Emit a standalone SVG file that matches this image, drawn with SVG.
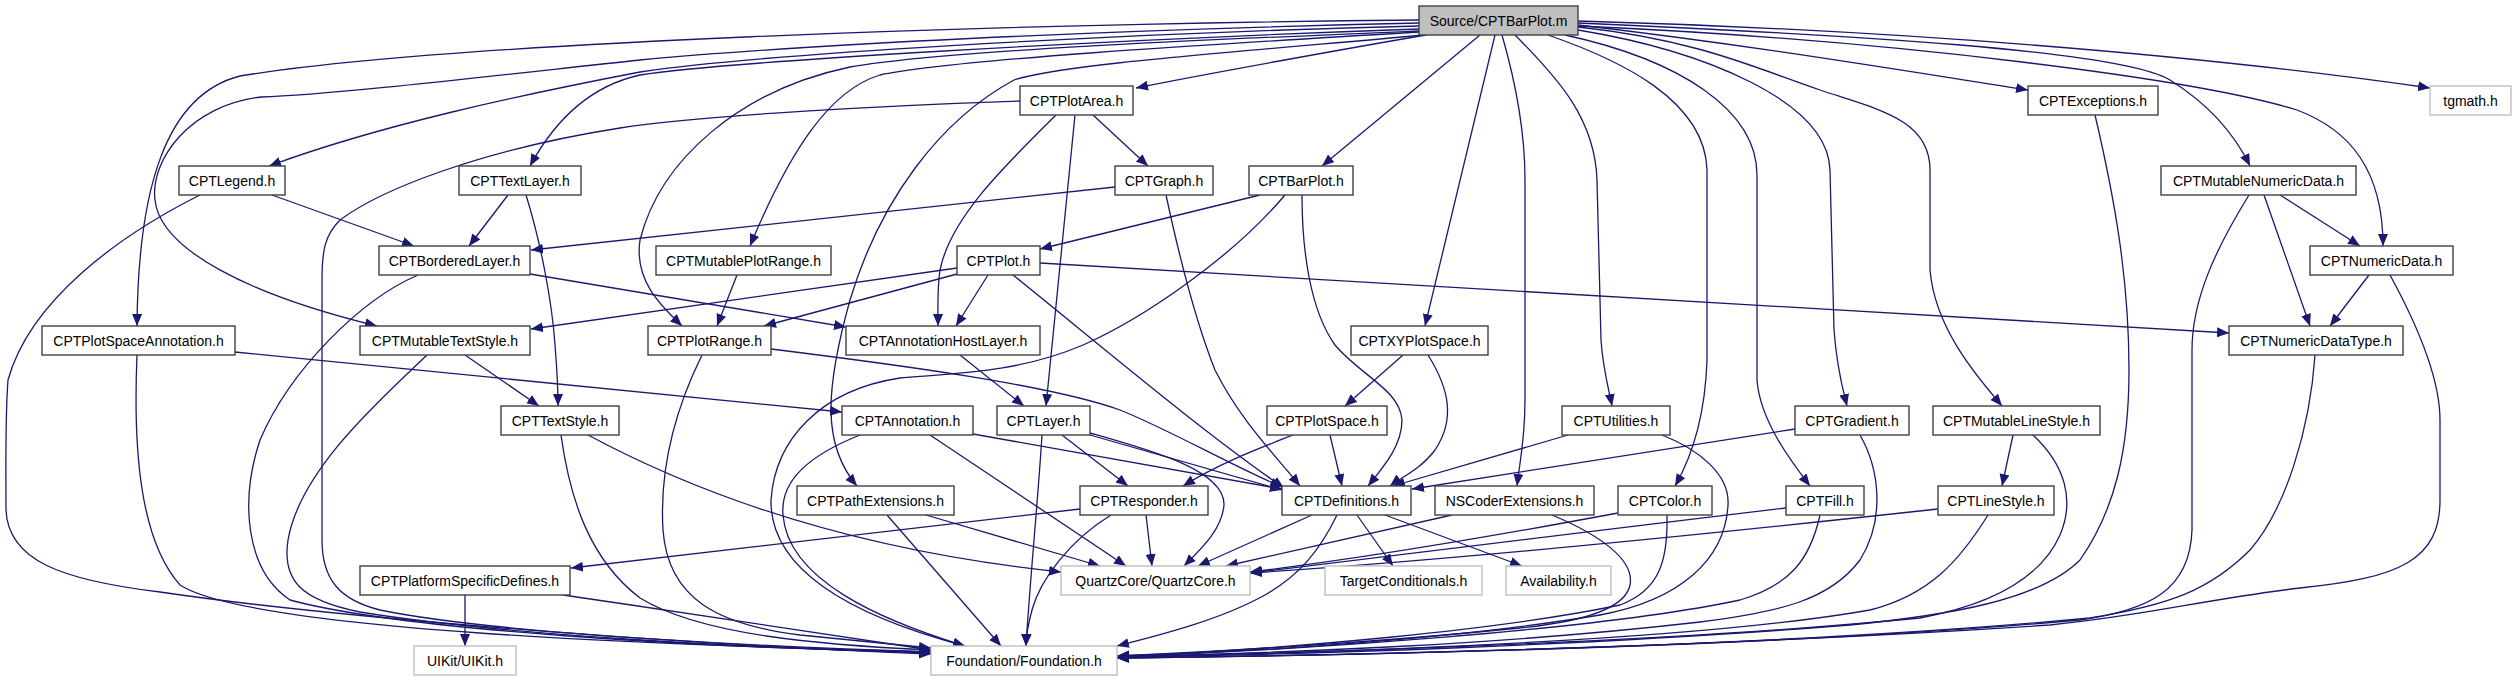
<svg xmlns="http://www.w3.org/2000/svg" width="2517" height="683" viewBox="0 0 2517 683">
<style>
.n rect{fill:#fff;stroke:#404040;stroke-width:1.4}
.n.g rect{stroke:#bfbfbf}
.n.r rect{fill:#bfbfbf}
.n text{font-family:"Liberation Sans",Arial,sans-serif;font-size:14px;text-anchor:middle;fill:#000}
#edges path{fill:none;stroke:#191970;stroke-width:1.3;marker-end:url(#a)}
</style>
<defs>
<marker id="a" markerWidth="13" markerHeight="11" refX="12" refY="5" orient="auto" markerUnits="userSpaceOnUse"><path d="M0,0 L12,5 L0,10 z" fill="#191970"/></marker>
</defs>
<rect width="2517" height="683" fill="#fff"/>
<g id="edges">
<path d="M1426,35 C1350,48 1200,75 1136,88"/>
<path d="M1419,20 C1000,24 450,42 240,76 C165,95 138,190 137,326"/>
<path d="M1419,23 C1100,30 800,45 640,60 C500,75 330,95 261,97 C190,105 150,160 155,200 C160,250 250,295 377,326"/>
<path d="M1419,26 C1100,34 750,55 640,72 C520,95 380,125 269,166"/>
<path d="M1419,29 C1100,40 720,62 640,75 C590,86 555,120 530,166"/>
<path d="M1419,31 C1200,40 950,50 850,67 C740,90 660,160 640,240 C634,280 660,305 682,326"/>
<path d="M1419,32 C1200,45 950,60 880,75 C830,90 790,150 750,246"/>
<path d="M1425,35 C1200,55 1060,65 1014,80 C940,120 880,200 850,300 C825,390 822,445 857,486"/>
<path d="M1502,35 C1515,80 1525,130 1525,180 L1525,400 C1525,440 1520,460 1517,486"/>
<path d="M1495,35 L1425,326"/>
<path d="M1480,35 L1322,166"/>
<path d="M1515,35 C1560,80 1595,120 1597,180 L1601,340 C1603,370 1609,390 1612,406"/>
<path d="M1548,35 C1620,60 1705,100 1707,170 L1707,360 C1705,420 1690,460 1675,486"/>
<path d="M1565,35 C1680,60 1757,110 1757,175 L1757,380 C1760,420 1790,460 1810,486"/>
<path d="M1578,30 C1700,50 1828,100 1830,170 L1834,330 C1837,370 1843,390 1847,406"/>
<path d="M1578,27 C1700,40 1760,70 1820,90 C1880,110 1930,120 1930,170 L1930,270 C1935,330 1980,380 2002,406"/>
<path d="M1578,25 C1750,45 1900,70 2028,90"/>
<path d="M1578,21 C1900,30 2200,55 2430,88"/>
<path d="M1578,23 C1850,35 2120,50 2170,80 C2210,105 2235,135 2250,166"/>
<path d="M1578,26 C1900,40 2200,80 2297,110 C2350,130 2383,170 2383,246"/>
<path d="M1093,115 L1148,166"/>
<path d="M1056,115 C1000,170 950,220 940,270 C937,290 938,310 938,326"/>
<path d="M1075,115 L1046,406"/>
<path d="M1020,101 C900,105 700,115 620,128 C480,150 380,190 340,220 C325,235 322,250 322,280 L322,540 C322,580 340,600 380,610 C500,635 800,648 931,652"/>
<path d="M272,195 L414,246"/>
<path d="M200,195 C120,235 30,300 8,380 C5,420 6,470 6,510 C8,560 60,580 160,592 C350,620 700,645 931,654"/>
<path d="M508,195 L469,246"/>
<path d="M526,195 C540,240 552,300 555,345 C557,370 558,390 558,406"/>
<path d="M1115,187 L531,250"/>
<path d="M1166,195 C1180,260 1195,320 1215,370 C1240,420 1275,455 1300,486"/>
<path d="M1260,195 L1040,249"/>
<path d="M1302,195 C1302,250 1310,310 1335,345 C1360,375 1400,390 1402,420 C1402,445 1385,465 1368,486"/>
<path d="M1285,195 C1230,260 1140,320 1083,345 C1020,372 960,373 900,378 C820,390 775,440 771,500 C770,560 830,610 965,646"/>
<path d="M957,268 L531,329"/>
<path d="M957,274 L764,326"/>
<path d="M988,275 L956,326"/>
<path d="M1013,275 C1100,345 1200,430 1284,488"/>
<path d="M1040,263 L2229,333"/>
<path d="M530,274 L846,327"/>
<path d="M418,275 C360,300 290,370 260,440 C240,500 245,570 290,600 C400,630 700,648 931,652"/>
<path d="M427,355 C380,400 300,470 288,540 C282,580 300,600 360,612 C500,635 750,648 931,653"/>
<path d="M465,355 L539,406"/>
<path d="M235,352 L842,412"/>
<path d="M137,355 C133,450 140,540 180,585 C250,630 650,645 931,652"/>
<path d="M588,435 C700,495 850,550 1061,572"/>
<path d="M561,435 C570,500 590,560 640,598 C700,635 820,645 931,650"/>
<path d="M465,595 L465,646"/>
<path d="M563,595 C700,615 850,638 931,650"/>
<path d="M1080,509 L571,568"/>
<path d="M1146,515 L1152,566"/>
<path d="M1111,515 C1070,540 1040,580 1032,610 C1028,625 1026,635 1026,646"/>
<path d="M1062,435 L1128,486"/>
<path d="M1042,435 C1038,500 1030,580 1026,646"/>
<path d="M1090,433 C1150,450 1225,470 1224,505 C1222,530 1200,550 1184,566"/>
<path d="M1090,435 L1282,490"/>
<path d="M960,355 L1024,406"/>
<path d="M973,434 L1282,489"/>
<path d="M930,435 L1126,566"/>
<path d="M860,435 C810,455 780,480 783,515 C788,580 880,620 965,646"/>
<path d="M926,515 L1100,566"/>
<path d="M887,515 L1001,646"/>
<path d="M771,349 C900,365 1050,385 1120,410 C1170,430 1230,465 1282,487"/>
<path d="M702,355 C670,420 660,480 663,530 C668,600 720,625 800,635 C850,640 900,645 931,648"/>
<path d="M737,275 L717,326"/>
<path d="M1403,355 L1345,406"/>
<path d="M1428,355 C1450,390 1455,420 1435,450 C1420,470 1400,478 1390,486"/>
<path d="M1330,435 L1342,486"/>
<path d="M1293,435 C1260,448 1220,463 1183,486"/>
<path d="M1568,435 L1393,486"/>
<path d="M1662,435 C1700,450 1730,475 1728,505 C1725,560 1680,600 1600,615 C1450,640 1250,652 1117,656"/>
<path d="M1452,515 L1226,566"/>
<path d="M1552,515 C1600,535 1635,560 1630,585 C1625,610 1580,622 1520,628 C1350,645 1200,652 1117,656"/>
<path d="M1357,515 L1393,566"/>
<path d="M1385,515 L1522,566"/>
<path d="M1312,515 L1198,566"/>
<path d="M1337,515 C1320,550 1300,575 1265,595 C1220,620 1160,635 1117,646"/>
<path d="M1618,513 C1500,535 1350,560 1250,572"/>
<path d="M1667,515 C1668,560 1660,590 1620,605 C1500,630 1300,648 1117,657"/>
<path d="M1786,508 C1600,530 1400,555 1250,573"/>
<path d="M1820,515 C1810,560 1790,585 1740,600 C1600,630 1300,650 1117,657"/>
<path d="M1795,429 L1412,489"/>
<path d="M1860,435 C1880,470 1885,520 1860,560 C1830,600 1780,612 1700,622 C1500,645 1300,652 1117,657"/>
<path d="M2013,435 L2002,486"/>
<path d="M2033,435 C2065,465 2075,500 2060,535 C2040,580 1990,605 1920,618 C1700,640 1350,652 1117,657"/>
<path d="M1938,509 C1700,535 1450,560 1250,573"/>
<path d="M1988,515 C1960,560 1930,595 1870,610 C1700,640 1350,652 1117,657"/>
<path d="M2095,115 C2115,200 2129,280 2129,370 C2129,450 2115,510 2080,560 C2040,600 1950,615 1850,625 C1600,645 1300,655 1117,657"/>
<path d="M2280,195 L2360,246"/>
<path d="M2264,195 L2310,326"/>
<path d="M2249,195 C2215,250 2192,300 2192,350 L2192,530 C2190,590 2150,610 2080,620 C1800,645 1400,655 1117,658"/>
<path d="M2369,275 L2330,326"/>
<path d="M2390,275 C2420,330 2440,380 2440,420 L2440,500 C2440,560 2400,578 2300,588 C2200,600 2150,615 2050,625 C1700,648 1350,655 1117,658"/>
<path d="M2315,355 C2310,430 2285,510 2250,550 C2210,590 2170,605 2090,618 C1800,645 1400,655 1117,658"/>
</g>
<g id="n0" class="n r"><rect x="1419" y="6" width="159" height="29"/><text x="1498.5" y="26">Source/CPTBarPlot.m</text></g>
<g id="n1" class="n"><rect x="1020" y="86" width="113" height="29"/><text x="1076.5" y="106">CPTPlotArea.h</text></g>
<g id="n2" class="n"><rect x="2028" y="86" width="130" height="29"/><text x="2093" y="106">CPTExceptions.h</text></g>
<g id="n3" class="n g"><rect x="2430" y="86" width="81" height="29"/><text x="2470.5" y="106">tgmath.h</text></g>
<g id="n4" class="n"><rect x="179" y="166" width="106" height="29"/><text x="232" y="186">CPTLegend.h</text></g>
<g id="n5" class="n"><rect x="459" y="166" width="122" height="29"/><text x="520" y="186">CPTTextLayer.h</text></g>
<g id="n6" class="n"><rect x="1115" y="166" width="98" height="29"/><text x="1164" y="186">CPTGraph.h</text></g>
<g id="n7" class="n"><rect x="1249" y="166" width="104" height="29"/><text x="1301" y="186">CPTBarPlot.h</text></g>
<g id="n8" class="n"><rect x="2161" y="166" width="195" height="29"/><text x="2258.5" y="186">CPTMutableNumericData.h</text></g>
<g id="n9" class="n"><rect x="379" y="246" width="151" height="29"/><text x="454.5" y="266">CPTBorderedLayer.h</text></g>
<g id="n10" class="n"><rect x="656" y="246" width="175" height="29"/><text x="743.5" y="266">CPTMutablePlotRange.h</text></g>
<g id="n11" class="n"><rect x="957" y="246" width="83" height="29"/><text x="998.5" y="266">CPTPlot.h</text></g>
<g id="n12" class="n"><rect x="2310" y="246" width="143" height="29"/><text x="2381.5" y="266">CPTNumericData.h</text></g>
<g id="n13" class="n"><rect x="42" y="326" width="193" height="29"/><text x="138.5" y="346">CPTPlotSpaceAnnotation.h</text></g>
<g id="n14" class="n"><rect x="360" y="326" width="170" height="29"/><text x="445" y="346">CPTMutableTextStyle.h</text></g>
<g id="n15" class="n"><rect x="648" y="326" width="123" height="29"/><text x="709.5" y="346">CPTPlotRange.h</text></g>
<g id="n16" class="n"><rect x="846" y="326" width="194" height="29"/><text x="943" y="346">CPTAnnotationHostLayer.h</text></g>
<g id="n17" class="n"><rect x="1351" y="326" width="137" height="29"/><text x="1419.5" y="346">CPTXYPlotSpace.h</text></g>
<g id="n18" class="n"><rect x="2229" y="326" width="174" height="29"/><text x="2316" y="346">CPTNumericDataType.h</text></g>
<g id="n19" class="n"><rect x="501" y="406" width="118" height="29"/><text x="560" y="426">CPTTextStyle.h</text></g>
<g id="n20" class="n"><rect x="842" y="406" width="131" height="29"/><text x="907.5" y="426">CPTAnnotation.h</text></g>
<g id="n21" class="n"><rect x="997" y="406" width="93" height="29"/><text x="1043.5" y="426">CPTLayer.h</text></g>
<g id="n22" class="n"><rect x="1267" y="406" width="120" height="29"/><text x="1327" y="426">CPTPlotSpace.h</text></g>
<g id="n23" class="n"><rect x="1562" y="406" width="108" height="29"/><text x="1616" y="426">CPTUtilities.h</text></g>
<g id="n24" class="n"><rect x="1795" y="406" width="114" height="29"/><text x="1852" y="426">CPTGradient.h</text></g>
<g id="n25" class="n"><rect x="1933" y="406" width="167" height="29"/><text x="2016.5" y="426">CPTMutableLineStyle.h</text></g>
<g id="n26" class="n"><rect x="797" y="486" width="157" height="29"/><text x="875.5" y="506">CPTPathExtensions.h</text></g>
<g id="n27" class="n"><rect x="1080" y="486" width="128" height="29"/><text x="1144" y="506">CPTResponder.h</text></g>
<g id="n28" class="n"><rect x="1282" y="486" width="129" height="29"/><text x="1346.5" y="506">CPTDefinitions.h</text></g>
<g id="n29" class="n"><rect x="1435" y="486" width="159" height="29"/><text x="1514.5" y="506">NSCoderExtensions.h</text></g>
<g id="n30" class="n"><rect x="1618" y="486" width="94" height="29"/><text x="1665" y="506">CPTColor.h</text></g>
<g id="n31" class="n"><rect x="1786" y="486" width="78" height="29"/><text x="1825" y="506">CPTFill.h</text></g>
<g id="n32" class="n"><rect x="1938" y="486" width="116" height="29"/><text x="1996" y="506">CPTLineStyle.h</text></g>
<g id="n33" class="n"><rect x="360" y="566" width="210" height="29"/><text x="465" y="586">CPTPlatformSpecificDefines.h</text></g>
<g id="n34" class="n g"><rect x="1061" y="566" width="189" height="29"/><text x="1155.5" y="586">QuartzCore/QuartzCore.h</text></g>
<g id="n35" class="n g"><rect x="1325" y="566" width="157" height="29"/><text x="1403.5" y="586">TargetConditionals.h</text></g>
<g id="n36" class="n g"><rect x="1506" y="566" width="105" height="29"/><text x="1558.5" y="586">Availability.h</text></g>
<g id="n37" class="n g"><rect x="414" y="646" width="102" height="29"/><text x="465" y="666">UIKit/UIKit.h</text></g>
<g id="n38" class="n g"><rect x="931" y="646" width="186" height="29"/><text x="1024" y="666">Foundation/Foundation.h</text></g>
</svg>
